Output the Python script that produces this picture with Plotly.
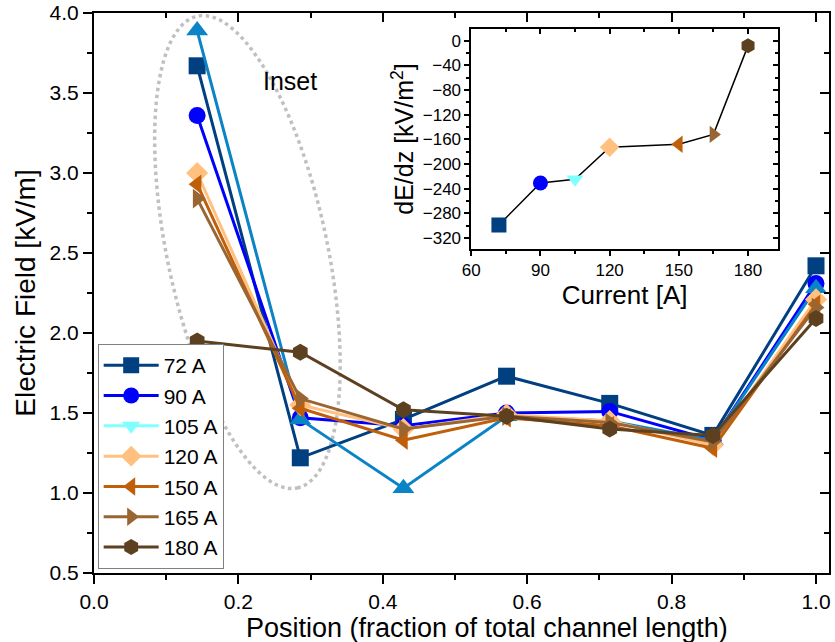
import math
import plotly.graph_objects as go

# ---------------- data ----------------
positions = [1/7, 2/7, 3/7, 4/7, 5/7, 6/7, 1.0]
series_names = ["72 A", "90 A", "105 A", "120 A", "150 A", "165 A", "180 A"]
field_72 = [3.67, 1.22, 1.46, 1.73, 1.56, 1.36, 2.42]
field_90 = [3.36, 1.47, 1.42, 1.50, 1.51, 1.33, 2.31]
field_105 = [3.89, 1.46, 1.03, 1.48, 1.45, 1.33, 2.28]
field_120 = [3.00, 1.55, 1.40, 1.49, 1.45, 1.30, 2.21]
field_150 = [2.93, 1.53, 1.33, 1.47, 1.42, 1.28, 2.18]
field_165 = [2.84, 1.59, 1.40, 1.48, 1.44, 1.32, 2.16]
field_180 = [1.95, 1.88, 1.52, 1.48, 1.40, 1.36, 2.09]

currents = [72, 90, 105, 120, 150, 165, 180]
dEdz = [-299, -231, -225, -173, -168, -152, -8]

x_ticks = [0.0, 0.2, 0.4, 0.6, 0.8, 1.0]
y_ticks = [0.5, 1.0, 1.5, 2.0, 2.5, 3.0, 3.5, 4.0]
inset_x_ticks = [60, 90, 120, 150, 180]
inset_y_ticks = [0, -40, -80, -120, -160, -200, -240, -280, -320]

# ---------------- styles ----------------
FONT = "Liberation Sans, Arial, sans-serif"
colors = ["#003f80", "#0000ff", "#0a84c6", "#ffc080", "#c05f0a", "#996633", "#5c4020"]
symbols = ["square", "circle", "triangle-up", "diamond", "triangle-left", "triangle-right", "hexagon"]
legend_colors = ["#003f80", "#0000ff", "#80ffff", "#ffc080", "#c05f0a", "#996633", "#5c4020"]
legend_symbols = ["square", "circle", "triangle-down", "diamond", "triangle-left", "triangle-right", "hexagon"]
field_data = [field_72, field_90, field_105, field_120, field_150, field_165, field_180]

W, H = 835, 642
ml, mr, mt, mb = 93.5, 6, 13, 69
x_range = [0, 1.018]
y_range = [0.5, 4.0]

fig = go.Figure()

for i, name in enumerate(series_names):
    fig.add_trace(go.Scatter(
        x=positions, y=field_data[i], mode="lines+markers", name=name,
        line=dict(color=colors[i], width=3),
        marker=dict(color=colors[i], symbol=symbols[i], size=17 if symbols[i] != "triangle-up" else 19,
                    line=dict(width=0)),
        showlegend=False,
    ))

# legend entries (styled as in the reference legend)
for i, name in enumerate(series_names):
    fig.add_trace(go.Scatter(
        x=[None], y=[None], mode="lines+markers", name=name,
        line=dict(color=legend_colors[i], width=3),
        marker=dict(color=legend_colors[i], symbol=legend_symbols[i], size=16, line=dict(width=0)),
        showlegend=True,
    ))

# inset
fig.add_trace(go.Scatter(
    x=currents, y=dEdz, mode="lines", line=dict(color="black", width=1.5),
    xaxis="x2", yaxis="y2", showlegend=False,
))
fig.add_trace(go.Scatter(
    x=currents, y=dEdz, mode="markers",
    marker=dict(color=legend_colors, symbol=legend_symbols, size=15, line=dict(width=0)),
    xaxis="x2", yaxis="y2", showlegend=False,
))

# dummy traces for mirrored (inward) tick axes
fig.add_trace(go.Scatter(x=[None], y=[None], xaxis="x3", yaxis="y3", showlegend=False))
fig.add_trace(go.Scatter(x=[None], y=[None], xaxis="x4", yaxis="y4", showlegend=False))

# dotted ellipse (decoration)
pw = W - ml - mr
ph = H - mt - mb
sx = pw / (x_range[1] - x_range[0])
sy = ph / (y_range[1] - y_range[0])
cx, cy = 0.2125, 2.506
a_px, b_px = 241, 80
ux, uy = 0.207, 0.979
vx, vy = 0.979, -0.207
pts = []
for k in range(121):
    t = 2 * math.pi * k / 120
    px = a_px * math.cos(t) * ux + b_px * math.sin(t) * vx
    py = a_px * math.cos(t) * uy + b_px * math.sin(t) * vy
    pts.append((cx + px / sx, cy - py / sy))
path = "M " + " L ".join(f"{p[0]:.5f},{p[1]:.5f}" for p in pts) + " Z"
fig.add_shape(type="path", path=path, xref="x", yref="y",
              line=dict(color="#c0c0c0", width=3.5, dash="dot"), layer="below")

fig.add_annotation(x=0.272, y=3.575, xref="x", yref="y", text="Inset", showarrow=False,
                   font=dict(family=FONT, size=25, color="black"))

# x-axis title (slightly right of centre, as in the reference)
fig.add_annotation(x=(487 - ml) / pw, y=(H - mb - 628) / ph, xref="paper", yref="paper",
                   xanchor="center", yanchor="middle", showarrow=False,
                   text="Position (fraction of total channel length)",
                   font=dict(family=FONT, size=27, color="black"))

ix0, ix1 = (471 - ml) / pw, (778 - ml) / pw
iy0, iy1 = (H - mb - 249) / ph, (H - mb - 29) / ph

fig.update_layout(
    width=W, height=H,
    margin=dict(l=ml, r=mr, t=mt, b=mb, autoexpand=False),
    paper_bgcolor="white", plot_bgcolor="white",
    font=dict(family=FONT, color="black"),
    showlegend=True,
    legend=dict(x=0.005, y=0.007, xanchor="left", yanchor="bottom",
                bordercolor="#808080", borderwidth=1, bgcolor="white",
                font=dict(size=21, family=FONT), itemwidth=55, tracegroupgap=0),
    xaxis=dict(range=x_range, tickvals=x_ticks, ticktext=[f"{v:.1f}" for v in x_ticks],
               showgrid=False, zeroline=False, showline=True, linecolor="black", linewidth=2,
               mirror=True, ticks="outside", ticklen=9, tickwidth=2, tickcolor="black",
               minor=dict(dtick=0.1, tick0=0, ticks="outside", ticklen=5, tickwidth=2, tickcolor="black"),
               tickfont=dict(size=21)),
    yaxis=dict(range=y_range, tickvals=y_ticks, ticktext=[f"{v:.1f}" for v in y_ticks],
               showgrid=False, zeroline=False, showline=True, linecolor="black", linewidth=2,
               mirror=True, ticks="outside", ticklen=9, tickwidth=2, tickcolor="black",
               minor=dict(dtick=0.25, tick0=0.5, ticks="outside", ticklen=5, tickwidth=2, tickcolor="black"),
               tickfont=dict(size=21),
               title=dict(text="Electric Field [kV/m]", font=dict(size=28), standoff=6)),
    xaxis3=dict(overlaying="x", side="top", anchor="y", range=x_range, tickvals=x_ticks,
                showticklabels=False, showgrid=False, zeroline=False, showline=False,
                ticks="inside", ticklen=9, tickwidth=2, tickcolor="black",
                minor=dict(dtick=0.1, tick0=0, ticks="inside", ticklen=5, tickwidth=2, tickcolor="black")),
    yaxis3=dict(overlaying="y", side="right", anchor="x", range=y_range, tickvals=y_ticks,
                showticklabels=False, showgrid=False, zeroline=False, showline=False,
                ticks="inside", ticklen=9, tickwidth=2, tickcolor="black",
                minor=dict(dtick=0.25, tick0=0.5, ticks="inside", ticklen=5, tickwidth=2, tickcolor="black")),
    xaxis2=dict(domain=[ix0, ix1], anchor="y2", range=[60, 193], tickvals=inset_x_ticks,
                showgrid=False, zeroline=False, showline=True, linecolor="black", linewidth=1.5,
                mirror=True, ticks="outside", ticklen=5, tickwidth=1.5, tickcolor="black",
                minor=dict(dtick=15, tick0=60, ticks="outside", ticklen=3, tickwidth=1.5, tickcolor="black"),
                tickfont=dict(size=17),
                title=dict(text="Current [A]", font=dict(size=26), standoff=0)),
    yaxis2=dict(domain=[iy0, iy1], anchor="x2", range=[-338, 19], tickvals=inset_y_ticks,
                showgrid=False, zeroline=False, showline=True, linecolor="black", linewidth=1.5,
                mirror=True, ticks="outside", ticklen=5, tickwidth=1.5, tickcolor="black",
                minor=dict(dtick=20, tick0=0, ticks="outside", ticklen=3, tickwidth=1.5, tickcolor="black"),
                tickfont=dict(size=17),
                title=dict(text="dE/dz [kV/m<sup>2</sup>]", font=dict(size=25), standoff=2)),
    xaxis4=dict(overlaying="x2", side="top", anchor="y2", range=[60, 193], tickvals=inset_x_ticks,
                showticklabels=False, showgrid=False, zeroline=False, showline=False,
                ticks="inside", ticklen=5, tickwidth=1.5, tickcolor="black",
                minor=dict(dtick=15, tick0=60, ticks="inside", ticklen=3, tickwidth=1.5, tickcolor="black")),
    yaxis4=dict(overlaying="y2", side="right", anchor="x2", range=[-338, 19], tickvals=inset_y_ticks,
                showticklabels=False, showgrid=False, zeroline=False, showline=False,
                ticks="inside", ticklen=5, tickwidth=1.5, tickcolor="black",
                minor=dict(dtick=20, tick0=0, ticks="inside", ticklen=3, tickwidth=1.5, tickcolor="black")),
)

fig.write_html("out.html", config={"displayModeBar": False},
               post_script="document.body.style.margin='0';")
